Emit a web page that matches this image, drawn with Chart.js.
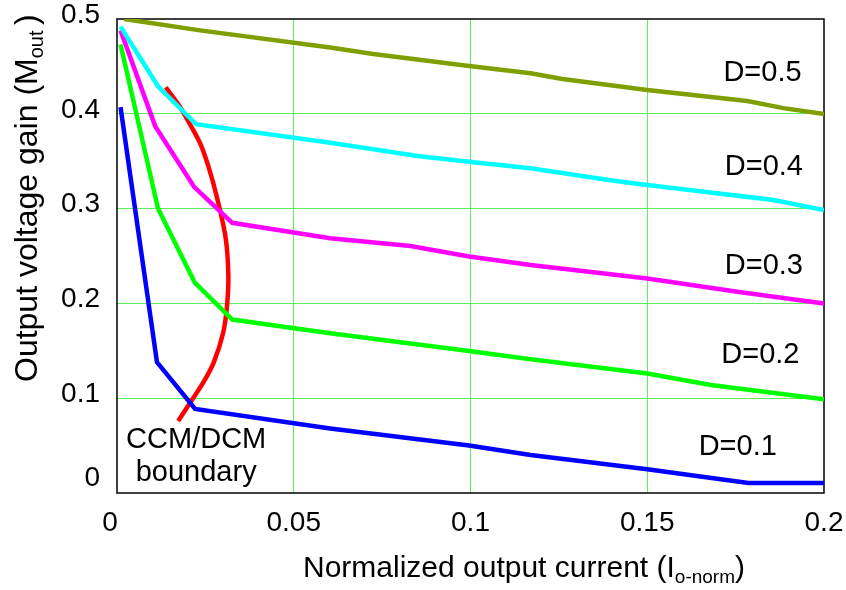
<!DOCTYPE html>
<html>
<head>
  <title>Output voltage gain</title>
  <script src="https://cdn.jsdelivr.net/npm/chart.js"></script>
  <style>
    body {
      margin: 0;
      padding: 0;
      background-color: #fff;
    }
    #wrap {
      width: 846px;
      height: 590px;
    }
  </style>
</head>
<body>
  <div id="wrap">
    <canvas id="gainChart" width="846" height="590"></canvas>
  </div>
  <script>
    // duty cycle curves (x = normalized output current, y = gain)
    const d05X = [0.002, 0.0235, 0.0603, 0.0725, 0.0996, 0.117, 0.126, 0.15, 0.1783, 0.1885, 0.2];
    const d05Y = [0.5, 0.488, 0.470, 0.463, 0.4504, 0.4427, 0.4367, 0.425, 0.4135, 0.406, 0.3998];

    const d04X = [0.001, 0.0116, 0.0224, 0.0603, 0.0753, 0.085, 0.0996, 0.117, 0.1395, 0.15, 0.1857, 0.2];
    const d04Y = [0.492, 0.429, 0.389, 0.3695, 0.361, 0.3555, 0.3495, 0.3425, 0.330, 0.325, 0.309, 0.2985];

    const d03X = [0.001, 0.0108, 0.0218, 0.0326, 0.0603, 0.083, 0.0996, 0.117, 0.15, 0.175, 0.2];
    const d03Y = [0.488, 0.387, 0.323, 0.285, 0.2687, 0.2605, 0.2495, 0.2405, 0.2262, 0.2125, 0.2];

    const d02X = [0.001, 0.0116, 0.022, 0.0326, 0.0603, 0.0996, 0.117, 0.15, 0.168, 0.2];
    const d02Y = [0.473, 0.30, 0.222, 0.183, 0.1685, 0.1498, 0.141, 0.126, 0.114, 0.099];

    const d01X = [0.001, 0.0113, 0.0221, 0.0603, 0.0996, 0.117, 0.15, 0.1786, 0.2];
    const d01Y = [0.407, 0.138, 0.0886, 0.068, 0.050, 0.040, 0.025, 0.0105, 0.0105];

    // CCM/DCM boundary
    const bndX = [0.0138, 0.0178, 0.0202, 0.0235, 0.0259, 0.0282, 0.0307, 0.0315, 0.0311, 0.0300, 0.0274, 0.0248, 0.0212, 0.0173];
    const bndY = [0.428, 0.4075, 0.392, 0.369, 0.344, 0.313, 0.270, 0.230, 0.1965, 0.1685, 0.138, 0.119, 0.098, 0.076];

    const xTickVals = [0, 0.05, 0.1, 0.15, 0.2];
    const yTickVals = [0, 0.1, 0.2, 0.3, 0.4, 0.5];

    // curve labels: text, x, y (data units)
    const labelText = ['D=0.5', 'D=0.4', 'D=0.3', 'D=0.2', 'D=0.1', 'CCM/DCM', 'boundary'];
    const labelX = [0.1826, 0.183, 0.183, 0.182, 0.1756, 0.0224, 0.0224];
    const labelY = [0.443, 0.344, 0.239, 0.1456, 0.0485, 0.0554, 0.0211];

    const FONT = '"Liberation Sans", Arial, sans-serif';

    function pts(xs, ys) {
      return xs.map((x, i) => ({ x: x, y: ys[i] }));
    }

    function curve(label, xs, ys, color, order) {
      return {
        label: label,
        data: pts(xs, ys),
        borderColor: color,
        backgroundColor: color,
        borderWidth: 4.5,
        showLine: true,
        pointRadius: 0,
        tension: 0,
        order: order
      };
    }

    function fmt(v) {
      return String(Number(v.toFixed(2)));
    }

    // drop the label overflow padding so the plot box stays where it is
    function noPad(s) {
      s.paddingTop = 0;
      s.paddingBottom = 0;
      s.paddingLeft = 0;
      s.paddingRight = 0;
    }

    const overlay = {
      id: 'overlay',
      beforeDatasetsDraw(chart) {
        const a = chart.chartArea;
        const ctx = chart.ctx;
        ctx.save();
        ctx.strokeStyle = '#000';
        ctx.lineWidth = 1.5;
        ctx.strokeRect(a.left, a.top, a.right - a.left, a.bottom - a.top);
        ctx.restore();
      },
      afterDraw(chart) {
        const ctx = chart.ctx;
        const xs = chart.scales.x;
        const ys = chart.scales.y;
        ctx.save();
        ctx.fillStyle = '#000';

        // curve labels
        ctx.font = '29px ' + FONT;
        ctx.textAlign = 'center';
        ctx.textBaseline = 'middle';
        labelText.forEach((t, i) => {
          ctx.fillText(t, xs.getPixelForValue(labelX[i]), ys.getPixelForValue(labelY[i]));
        });

        // the two "0" labels sit off the corner
        ctx.font = '28px ' + FONT;
        ctx.fillText('0', xs.getPixelForValue(0) - 7, 523);
        ctx.textAlign = 'right';
        ctx.fillText('0', 100, ys.getPixelForValue(0) - 15);

        // x axis title with subscript
        ctx.textAlign = 'left';
        ctx.textBaseline = 'alphabetic';
        let x = 303;
        const base = 577;
        ctx.font = '30px ' + FONT;
        const xMain = 'Normalized output current (I';
        ctx.fillText(xMain, x, base);
        x += ctx.measureText(xMain).width;
        ctx.font = '19px ' + FONT;
        ctx.fillText('o-norm', x, base + 6);
        x += ctx.measureText('o-norm').width;
        ctx.font = '30px ' + FONT;
        ctx.fillText(')', x, base);

        // y axis title, rotated
        ctx.translate(37, 382);
        ctx.rotate(-Math.PI / 2);
        let y = 0;
        const yMain = 'Output voltage gain (M';
        ctx.font = '32px ' + FONT;
        ctx.fillText(yMain, y, 0);
        y += ctx.measureText(yMain).width;
        ctx.font = '20px ' + FONT;
        ctx.fillText('out', y, 6);
        y += ctx.measureText('out ').width;
        ctx.font = '32px ' + FONT;
        ctx.fillText(')', y, 0);
        ctx.restore();
      }
    };

    const ctx = document.getElementById('gainChart').getContext('2d');
    new Chart(ctx, {
      type: 'scatter',
      data: {
        datasets: [
          curve('D=0.5', d05X, d05Y, '#7f9f00', 1),
          curve('D=0.4', d04X, d04Y, '#00ffff', 2),
          curve('D=0.3', d03X, d03Y, '#ff00ff', 3),
          curve('D=0.2', d02X, d02Y, '#00ff00', 4),
          curve('D=0.1', d01X, d01Y, '#0000ff', 5),
          Object.assign(curve('CCM/DCM boundary', bndX, bndY, '#ff0000', 10), { tension: 0.3 })
        ]
      },
      options: {
        responsive: false,
        animation: false,
        layout: {
          padding: { top: 19, right: 22, left: 0, bottom: 0 }
        },
        plugins: {
          legend: { display: false },
          tooltip: { enabled: false }
        },
        scales: {
          x: {
            type: 'linear',
            min: 0,
            max: 0.2,
            afterBuildTicks: s => { s.ticks = xTickVals.map(v => ({ value: v })); },
            afterFit: s => { s.height = 97; noPad(s); },
            grid: {
              color: c => (c.tick && (c.tick.value === 0 || c.tick.value === 0.2)) ? 'rgba(0,0,0,0)' : '#5cef5c',
              lineWidth: 1,
              drawTicks: false
            },
            border: { display: false },
            ticks: {
              padding: 13,
              color: c => c.tick.value === 0 ? 'rgba(0,0,0,0)' : '#000',
              font: { family: FONT, size: 28 },
              maxRotation: 0,
              callback: v => fmt(v)
            }
          },
          y: {
            type: 'linear',
            min: 0,
            max: 0.5,
            afterBuildTicks: s => { s.ticks = yTickVals.map(v => ({ value: v })); },
            afterFit: s => { s.width = 117; noPad(s); },
            grid: {
              color: c => (c.tick && (c.tick.value === 0 || c.tick.value === 0.5)) ? 'rgba(0,0,0,0)' : '#5cef5c',
              lineWidth: 1,
              drawTicks: false
            },
            border: { display: false },
            ticks: {
              padding: 17,
              labelOffset: -4,
              color: c => c.tick.value === 0 ? 'rgba(0,0,0,0)' : '#000',
              font: { family: FONT, size: 28 },
              callback: v => fmt(v)
            }
          }
        }
      },
      plugins: [overlay]
    });
  </script>
</body>
</html>
